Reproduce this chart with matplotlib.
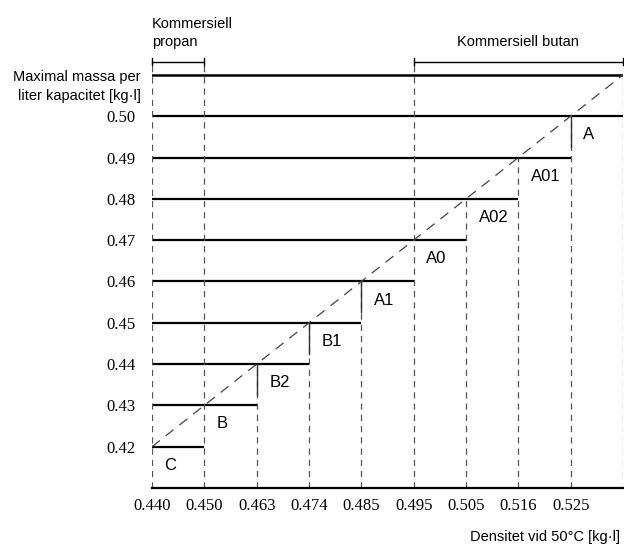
import matplotlib.pyplot as plt
import numpy as np

plt.rcParams['font.family'] = ['Liberation Sans', 'DejaVu Sans']

# density classes (evenly spaced on the x axis)
densities = ['0.440', '0.450', '0.463', '0.474', '0.485', '0.495', '0.505', '0.516', '0.525']
# maximal mass per litre capacity for each step
levels = [0.42, 0.43, 0.44, 0.45, 0.46, 0.47, 0.48, 0.49, 0.50]
classes = ['C', 'B', 'B2', 'B1', 'A1', 'A0', 'A02', 'A01', 'A']
top_level = 0.51

fig = plt.figure(figsize=(6.24, 5.49), dpi=100)
ax = fig.add_axes([152/624, 61/549, 471/624, 473/549])
ax.set_xlim(0, 9)
ax.set_ylim(0.41, 0.5245)

n = len(densities)
xpos = np.arange(n)
bracket_y = 0.5132

# horizontal steps
for i, lv in enumerate(levels):
    xend = i + 1 if i < n - 1 else 9
    ax.plot([0, xend], [lv, lv], color='black', lw=1.6, solid_capstyle='butt')
ax.plot([0, 9], [top_level, top_level], color='black', lw=1.8)

# vertical lines at each density
for i in range(n):
    if i in (0, 1, 5):
        ytop = bracket_y
    else:
        ytop = levels[i]
    ax.plot([i, i], [0.41, ytop], color='#555555', lw=0.9, ls=(0, (5, 4)))
    if i in (2, 3, 4, 8):
        ax.plot([i, i], [levels[i] - 0.0075, levels[i]], color='#333333', lw=1.0)
ax.plot([9, 9], [0.41, top_level], color='#555555', lw=0.9, ls=(0, (5, 4)))

# diagonal
ax.plot([0, 9], [levels[0], top_level], color='#444444', lw=0.9, ls=(0, (8, 6)))

# class labels
for i, c in enumerate(classes):
    ax.text(i + 0.24, levels[i] - 0.0045, c, fontsize=12, ha='left', va='center')

# brackets
for x0, x1 in [(0, 1), (5, 9)]:
    ax.plot([x0, x1], [bracket_y, bracket_y], color='black', lw=1.0, clip_on=False)
    for xx in (x0, x1):
        ax.plot([xx, xx], [bracket_y - 0.0009, bracket_y + 0.0009], color='black', lw=1.0, clip_on=False)
ax.text(0.0, 0.5163, 'Kommersiell\npropan', fontsize=10.5, ha='left', va='bottom',
        linespacing=1.35, clip_on=False)
ax.text(7.0, 0.5163, 'Kommersiell butan', fontsize=10.5, ha='center', va='bottom', clip_on=False)

# axis label top left
ax.text(-0.22, 0.5072, 'Maximal massa per\nliter kapacitet [kg·l]', fontsize=10.5,
        ha='right', va='center', linespacing=1.4, clip_on=False)

ax.set_yticks(levels)
ax.set_yticklabels(['%.2f' % v for v in levels], fontsize=12, family='Liberation Serif')
ax.set_xticks(xpos)
ax.set_xticklabels(densities, fontsize=12, family='Liberation Serif')
ax.tick_params(axis='y', length=0, pad=12)
ax.tick_params(axis='x', length=0, pad=7)

for s in ['top', 'right', 'left']:
    ax.spines[s].set_visible(False)
ax.spines['bottom'].set_linewidth(1.6)

fig.text(620/624, 1 - 537/549, 'Densitet vid 50°C [kg·l]', fontsize=10.5, ha='right', va='center')

plt.savefig('out.png', dpi=100)
